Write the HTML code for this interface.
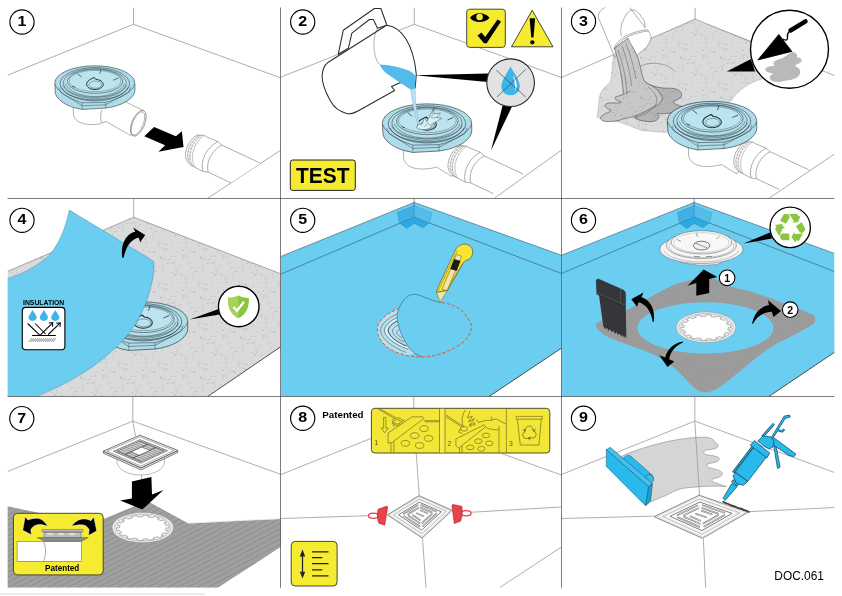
<!DOCTYPE html>
<html><head><meta charset="utf-8"><title>DOC.061</title>
<style>
html,body{margin:0;padding:0;background:#fff}
svg{display:block;will-change:transform}
text{font-family:"Liberation Sans",sans-serif}
.b{font-weight:bold}
.rl{stroke:#4a4a4a;stroke-width:.45;fill:none}
.tl{stroke:#9a9a9a;stroke-width:.8;fill:none}
.gl{stroke:#2a2a2a;stroke-width:.62;fill:none}
.nc{fill:#fff;stroke:#000;stroke-width:1.15}
.nt{font-weight:bold;font-size:14.6px;text-anchor:middle;fill:#000}
</style></head><body>
<svg width="842" height="596" viewBox="0 0 842 596">
<defs>
<pattern id="spk" width="40" height="40" patternUnits="userSpaceOnUse"><rect width="40" height="40" fill="#d9dadb"/><g fill="#858585"><circle cx="13.0" cy="6.0" r=".42"/><circle cx="26.0" cy="2.9" r=".42"/><circle cx="21.4" cy="14.6" r=".42"/><circle cx="2.3" cy="20.3" r=".42"/><circle cx="1.5" cy="17.3" r=".42"/><circle cx="2.8" cy="3.6" r=".42"/><circle cx="17.0" cy="33.1" r=".42"/><circle cx="5.0" cy="8.9" r=".42"/><circle cx="25.1" cy="37.9" r=".42"/><circle cx="23.1" cy="15.9" r=".42"/><circle cx="39.1" cy="1.9" r=".42"/><circle cx="34.3" cy="11.6" r=".42"/><circle cx="5.8" cy="4.7" r=".42"/><circle cx="12.3" cy="32.6" r=".42"/><circle cx="7.2" cy="23.3" r=".42"/><circle cx="25.6" cy="14.9" r=".42"/><circle cx="21.9" cy="2.5" r=".42"/><circle cx="2.4" cy="8.2" r=".42"/><circle cx="27.2" cy="17.1" r=".42"/><circle cx="12.6" cy="23.4" r=".42"/><circle cx="18.1" cy="12.0" r=".42"/><circle cx="31.8" cy="28.0" r=".42"/><circle cx="9.8" cy="23.0" r=".42"/><circle cx="21.0" cy="35.0" r=".42"/><circle cx="29.2" cy="11.5" r=".42"/><circle cx="39.2" cy="4.7" r=".42"/><circle cx="16.7" cy="30.3" r=".42"/><circle cx="6.1" cy="19.6" r=".42"/><circle cx="1.6" cy="26.7" r=".42"/><circle cx="30.6" cy="22.9" r=".42"/><circle cx="35.0" cy="12.5" r=".42"/><circle cx="27.8" cy="23.8" r=".42"/><circle cx="23.2" cy="18.2" r=".42"/><circle cx="33.6" cy="37.8" r=".42"/><circle cx="19.0" cy="26.6" r=".42"/><circle cx="2.4" cy="28.1" r=".42"/><circle cx="25.9" cy="39.7" r=".42"/><circle cx="32.9" cy="11.4" r=".42"/><circle cx="15.4" cy="26.7" r=".42"/><circle cx="0.9" cy="18.5" r=".42"/><circle cx="6.7" cy="4.7" r=".42"/><circle cx="2.4" cy="30.7" r=".42"/><circle cx="5.2" cy="9.9" r=".42"/><circle cx="15.6" cy="34.9" r=".42"/><circle cx="3.2" cy="18.0" r=".42"/><circle cx="22.0" cy="35.3" r=".42"/><circle cx="32.8" cy="34.6" r=".42"/><circle cx="11.1" cy="16.6" r=".42"/><circle cx="14.4" cy="35.4" r=".42"/><circle cx="38.3" cy="6.0" r=".42"/><circle cx="7.0" cy="9.3" r=".42"/><circle cx="9.3" cy="19.4" r=".42"/><circle cx="23.6" cy="10.5" r=".42"/><circle cx="0.2" cy="16.8" r=".42"/><circle cx="14.8" cy="22.7" r=".42"/><circle cx="38.1" cy="27.6" r=".42"/><circle cx="20.6" cy="24.7" r=".42"/><circle cx="27.0" cy="2.2" r=".42"/><circle cx="36.0" cy="31.2" r=".42"/><circle cx="35.0" cy="31.9" r=".42"/><circle cx="15.7" cy="16.0" r=".42"/><circle cx="4.1" cy="25.4" r=".42"/></g></pattern>
<pattern id="spk2" width="40" height="40" patternUnits="userSpaceOnUse"><rect width="40" height="40" fill="#b4b4b4"/><g fill="#777"><circle cx="13.0" cy="6.0" r=".42"/><circle cx="26.0" cy="2.9" r=".42"/><circle cx="21.4" cy="14.6" r=".42"/><circle cx="2.3" cy="20.3" r=".42"/><circle cx="1.5" cy="17.3" r=".42"/><circle cx="2.8" cy="3.6" r=".42"/><circle cx="17.0" cy="33.1" r=".42"/><circle cx="5.0" cy="8.9" r=".42"/><circle cx="25.1" cy="37.9" r=".42"/><circle cx="23.1" cy="15.9" r=".42"/><circle cx="39.1" cy="1.9" r=".42"/><circle cx="34.3" cy="11.6" r=".42"/><circle cx="5.8" cy="4.7" r=".42"/><circle cx="12.3" cy="32.6" r=".42"/><circle cx="7.2" cy="23.3" r=".42"/><circle cx="25.6" cy="14.9" r=".42"/><circle cx="21.9" cy="2.5" r=".42"/><circle cx="2.4" cy="8.2" r=".42"/><circle cx="27.2" cy="17.1" r=".42"/><circle cx="12.6" cy="23.4" r=".42"/><circle cx="18.1" cy="12.0" r=".42"/><circle cx="31.8" cy="28.0" r=".42"/><circle cx="9.8" cy="23.0" r=".42"/><circle cx="21.0" cy="35.0" r=".42"/><circle cx="29.2" cy="11.5" r=".42"/><circle cx="39.2" cy="4.7" r=".42"/><circle cx="16.7" cy="30.3" r=".42"/><circle cx="6.1" cy="19.6" r=".42"/><circle cx="1.6" cy="26.7" r=".42"/><circle cx="30.6" cy="22.9" r=".42"/><circle cx="35.0" cy="12.5" r=".42"/><circle cx="27.8" cy="23.8" r=".42"/><circle cx="23.2" cy="18.2" r=".42"/><circle cx="33.6" cy="37.8" r=".42"/><circle cx="19.0" cy="26.6" r=".42"/><circle cx="2.4" cy="28.1" r=".42"/><circle cx="25.9" cy="39.7" r=".42"/><circle cx="32.9" cy="11.4" r=".42"/><circle cx="15.4" cy="26.7" r=".42"/><circle cx="0.9" cy="18.5" r=".42"/><circle cx="6.7" cy="4.7" r=".42"/><circle cx="2.4" cy="30.7" r=".42"/><circle cx="5.2" cy="9.9" r=".42"/><circle cx="15.6" cy="34.9" r=".42"/><circle cx="3.2" cy="18.0" r=".42"/><circle cx="22.0" cy="35.3" r=".42"/><circle cx="32.8" cy="34.6" r=".42"/><circle cx="11.1" cy="16.6" r=".42"/><circle cx="14.4" cy="35.4" r=".42"/><circle cx="38.3" cy="6.0" r=".42"/><circle cx="7.0" cy="9.3" r=".42"/><circle cx="9.3" cy="19.4" r=".42"/><circle cx="23.6" cy="10.5" r=".42"/><circle cx="0.2" cy="16.8" r=".42"/><circle cx="14.8" cy="22.7" r=".42"/><circle cx="38.1" cy="27.6" r=".42"/><circle cx="20.6" cy="24.7" r=".42"/><circle cx="27.0" cy="2.2" r=".42"/><circle cx="36.0" cy="31.2" r=".42"/><circle cx="35.0" cy="31.9" r=".42"/><circle cx="15.7" cy="16.0" r=".42"/><circle cx="4.1" cy="25.4" r=".42"/></g></pattern>
<pattern id="spk3" width="40" height="40" patternUnits="userSpaceOnUse"><rect width="40" height="40" fill="#c7c7c7"/><g fill="#7d7d7d"><circle cx="13.0" cy="6.0" r=".42"/><circle cx="26.0" cy="2.9" r=".42"/><circle cx="21.4" cy="14.6" r=".42"/><circle cx="2.3" cy="20.3" r=".42"/><circle cx="1.5" cy="17.3" r=".42"/><circle cx="2.8" cy="3.6" r=".42"/><circle cx="17.0" cy="33.1" r=".42"/><circle cx="5.0" cy="8.9" r=".42"/><circle cx="25.1" cy="37.9" r=".42"/><circle cx="23.1" cy="15.9" r=".42"/><circle cx="39.1" cy="1.9" r=".42"/><circle cx="34.3" cy="11.6" r=".42"/><circle cx="5.8" cy="4.7" r=".42"/><circle cx="12.3" cy="32.6" r=".42"/><circle cx="7.2" cy="23.3" r=".42"/><circle cx="25.6" cy="14.9" r=".42"/><circle cx="21.9" cy="2.5" r=".42"/><circle cx="2.4" cy="8.2" r=".42"/><circle cx="27.2" cy="17.1" r=".42"/><circle cx="12.6" cy="23.4" r=".42"/><circle cx="18.1" cy="12.0" r=".42"/><circle cx="31.8" cy="28.0" r=".42"/><circle cx="9.8" cy="23.0" r=".42"/><circle cx="21.0" cy="35.0" r=".42"/><circle cx="29.2" cy="11.5" r=".42"/><circle cx="39.2" cy="4.7" r=".42"/><circle cx="16.7" cy="30.3" r=".42"/><circle cx="6.1" cy="19.6" r=".42"/><circle cx="1.6" cy="26.7" r=".42"/><circle cx="30.6" cy="22.9" r=".42"/><circle cx="35.0" cy="12.5" r=".42"/><circle cx="27.8" cy="23.8" r=".42"/><circle cx="23.2" cy="18.2" r=".42"/><circle cx="33.6" cy="37.8" r=".42"/><circle cx="19.0" cy="26.6" r=".42"/><circle cx="2.4" cy="28.1" r=".42"/><circle cx="25.9" cy="39.7" r=".42"/><circle cx="32.9" cy="11.4" r=".42"/><circle cx="15.4" cy="26.7" r=".42"/><circle cx="0.9" cy="18.5" r=".42"/><circle cx="6.7" cy="4.7" r=".42"/><circle cx="2.4" cy="30.7" r=".42"/><circle cx="5.2" cy="9.9" r=".42"/><circle cx="15.6" cy="34.9" r=".42"/><circle cx="3.2" cy="18.0" r=".42"/><circle cx="22.0" cy="35.3" r=".42"/><circle cx="32.8" cy="34.6" r=".42"/><circle cx="11.1" cy="16.6" r=".42"/><circle cx="14.4" cy="35.4" r=".42"/><circle cx="38.3" cy="6.0" r=".42"/><circle cx="7.0" cy="9.3" r=".42"/><circle cx="9.3" cy="19.4" r=".42"/><circle cx="23.6" cy="10.5" r=".42"/><circle cx="0.2" cy="16.8" r=".42"/><circle cx="14.8" cy="22.7" r=".42"/><circle cx="38.1" cy="27.6" r=".42"/><circle cx="20.6" cy="24.7" r=".42"/><circle cx="27.0" cy="2.2" r=".42"/><circle cx="36.0" cy="31.2" r=".42"/><circle cx="35.0" cy="31.9" r=".42"/><circle cx="15.7" cy="16.0" r=".42"/><circle cx="4.1" cy="25.4" r=".42"/></g></pattern>
<pattern id="str6" width="2" height="10" patternUnits="userSpaceOnUse" patternTransform="rotate(62.5)"><rect width="2" height="10" fill="#a3a3a3"/><rect width=".65" height="10" fill="#8a8a8a"/></pattern>
<pattern id="str7" width="4.6" height="10" patternUnits="userSpaceOnUse" patternTransform="rotate(62.5)"><rect width="4.6" height="10" fill="#9fa0a0"/><rect width=".6" height="10" fill="#848484"/></pattern>
<clipPath id="c1"><rect x="7.5" y="7.5" width="273.0" height="191.0"/></clipPath>
<clipPath id="c2"><rect x="280.5" y="7.5" width="281.0" height="191.0"/></clipPath>
<clipPath id="c3"><rect x="561.5" y="7.5" width="273.0" height="191.0"/></clipPath>
<clipPath id="c4"><rect x="7.5" y="198.5" width="273.0" height="198.0"/></clipPath>
<clipPath id="c5"><rect x="280.5" y="198.5" width="281.0" height="198.0"/></clipPath>
<clipPath id="c6"><rect x="561.5" y="198.5" width="273.0" height="198.0"/></clipPath>
<clipPath id="c7"><rect x="7.5" y="396.5" width="273.0" height="191.3"/></clipPath>
<clipPath id="c8"><rect x="280.5" y="396.5" width="281.0" height="191.3"/></clipPath>
<clipPath id="c9"><rect x="561.5" y="396.5" width="273.0" height="191.3"/></clipPath>
<g id="drain">
<path d="M-40,-3.2 A40,17.2 0 0 1 40,-3.2 L40.2,3.2 A40.2,19.3 0 0 1 10.8,21.9 L-12.7,23.2 A40.2,19.6 0 0 1 -39.7,3.7 Z" fill="#aedce8" stroke="#1f2c33" stroke-width=".55" stroke-linejoin="round"/>
<path d="M-39.8,-2 C-37,6 -26,12.5 -12.7,16.6 L10.8,16.2 C25,12.5 37,6 40,-2" fill="none" stroke="#1f2c33" stroke-width=".45"/>
<path d="M-36,1.5 L-34,6 L-12.7,19.6 L10.8,18.6 L34,6 L36,1" fill="none" stroke="#1f2c33" stroke-width=".4"/>
<path d="M-12.7,16.6 L-12.7,23.2 M10.8,16.2 L10.8,21.9" fill="none" stroke="#1f2c33" stroke-width=".35"/>
<ellipse cx="0" cy="-2.5" rx="34.7" ry="16.2" fill="#b5e0eb" stroke="#1f2c33" stroke-width=".5"/>
<path d="M-33.5,1 C-29,9.5 -15,14.6 0,14.6 C15,14.6 29,9.5 33.5,1" fill="none" stroke="#1f2c33" stroke-width=".5"/>
<path d="M-32,-1 C-28,7.5 -14,12.4 0,12.4 C14,12.4 28,7.5 32,-1" fill="none" stroke="#1f2c33" stroke-width=".4"/>
<ellipse cx="0" cy="-3.2" rx="31.5" ry="14.3" fill="none" stroke="#1f2c33" stroke-width=".45"/>
<path d="M-29.5,-2.5 C-26,5.5 -13,10.4 0.3,10.4 C13.5,10.4 26.5,5.5 29.8,-2.5" fill="none" stroke="#1f2c33" stroke-width=".4"/>
<ellipse cx="0.3" cy="-4.9" rx="27.6" ry="12" fill="#bbe4ee" stroke="#1f2c33" stroke-width=".5"/>
<ellipse cx="0.3" cy="-5.2" rx="25.9" ry="10.6" fill="none" stroke="#1f2c33" stroke-width=".3"/>
<path d="M-2.6,-7.8 C-6,-6.5 -8.2,-4.2 -8.2,-1.8 C-8.2,1 -4.5,3.3 0.1,3.3 C4.7,3.3 8.4,1 8.4,-1.8 C8.4,-4.4 5.2,-6.5 1.2,-6.8 L-0.8,-8.6 Z" fill="#bbe4ee" stroke="#1d2a30" stroke-width=".95" stroke-linejoin="round"/>
<ellipse cx="0.5" cy="-1.5" rx="6.4" ry="3.6" fill="none" stroke="#1d2a30" stroke-width=".35"/>
<g stroke="#1d2a30" stroke-width=".65" fill="none"><path d="M-17.2,-12.5 L-13.3,-9.3"/><path d="M6.3,-16.8 L4.9,-12.5"/><path d="M23.6,-8.2 L18.3,-5.9"/><path d="M-22.9,0 L-19.7,1.1"/></g>
</g>
</defs>
<g clip-path="url(#c1)">
<path class="rl" d="M133.5,7.5 V24.3 M7.5,75.2 L133.5,24.3 L281,78 M281,150 L207,198.7"/>
<!-- bowl and pipe -->
<path d="M73.2,104 L73.4,114 C74,121 82,124.6 91,124.6 C97,124.6 100.5,124.2 101.5,123 L106.1,121.5 L130.9,135.6 L143.7,110.8 L125.5,101.8 Z" fill="#fff" stroke="#555" stroke-width=".45"/>
<path class="rl" d="M101.5,123 C100.2,119 100.5,113 102,110"/>
<ellipse cx="138.3" cy="123.3" rx="6.3" ry="13.7" transform="rotate(23 138.3 123.3)" fill="#fff" stroke="#444" stroke-width=".5"/>
<ellipse cx="137.9" cy="123.5" rx="5.2" ry="12.5" transform="rotate(23 137.9 123.5)" fill="none" stroke="#555" stroke-width=".4"/>
<use href="#drain" x="94.8" y="86.2"/>
<!-- arrow -->
<path d="M154.1,126.9 L175.9,136.3 L181.9,131.3 L183.5,147 L158.4,151.7 L165.1,145.3 L144.3,136.3Z" fill="#000"/>
<!-- receiving pipe -->
<g id="rpipe">
<path d="M197.1,135.1 L204.2,135.4 L207.2,137.1 L217.8,141.6 L221.8,145.1 L260.5,163.2 L230.7,182.8 L208.2,172.1 L202.7,171.3 L191.1,165.3 C187,162 185,158 185.5,154.2 C186,147 190,139 197.1,135.1Z" fill="#fff"/>
<path class="rl" d="M197.1,135.1 L204.2,135.4 L207.2,137.1 L217.8,141.6 L221.8,145.1 L260.5,163.2 M191.1,165.3 L202.7,171.3 L208.2,172.1 L230.7,182.8 M197.1,135.1 C190,139 186,147 185.5,154.2 C185,158 187,162 191.1,165.3 M217.8,141.6 C207,147 200,160 202.7,171.3 M221.8,145.1 C212,150 205.5,162 208.2,172.1"/>
<path d="M199.3,135.2 C192.3,139.5 188.1,147.5 187.6,154.5 C187.2,158.5 188.8,162.5 192.1,165.9 M201.6,135.3 C194.8,139.8 190.3,148 189.8,155 C189.4,159 190.8,163 193.4,166.5 M204.2,135.4 C197.3,140 193,148.5 192.4,155.5 C192,159.5 193,163.5 195,167.2" fill="none" stroke="#666" stroke-width=".4"/>
<path d="M196,136.5 L199.5,138 M193.5,138.8 L197,140.4 M191.5,141.5 L195,143.2 M189.8,144.5 L193.4,146.2 M188.5,147.8 L192.2,149.4 M187.5,151.2 L191.3,152.6 M187,154.8 L190.8,156 M187.2,158.2 L190.8,159.2" stroke="#777" stroke-width=".35" fill="none"/>
</g>
</g>

<g clip-path="url(#c2)">
<path class="rl" d="M414.3,7.5 V24.3 M281,77 L414.3,24.3 L561.5,77.5 M561.5,150 L494.3,198.3"/>
<!-- callout pointers -->
<path d="M414.5,75.2 L488,73.6 L488,82 Z" fill="#000"/>
<path d="M491,150.5 L503,104 L512,106.5 Z" fill="#000"/>
<!-- jug -->
<path d="M338.2,54.3 L343.3,30.2 L374.4,8.5 L380.9,8.5 L386.9,25.2 L377.5,28.2 L373.4,19.5 L369.4,19.5 L351.9,33.2 L348.3,48.3 Z" fill="#fff" stroke="#2b2b2b" stroke-width="1.05" stroke-linejoin="round"/>
<path d="M386.5,25.2 C394,26 401,31 406,39 C411,47 415,60 416.3,74.4 L415.2,88 L400.6,82.5 L391.5,86.5 L394.6,90.5 L358.4,110.7 C353,113.6 350,114.2 347.3,113.7 C338,111.5 333,106 330.2,100.6 C325,91 322,84 322.1,76.5 C322.3,70 324,65.5 327.5,62.8 Z" fill="#fff" stroke="#2b2b2b" stroke-width="1.05" stroke-linejoin="round"/>
<path d="M377.5,28.2 C373.5,36 373,47 375,55 C376.5,60.5 378,63 379.5,64.4" fill="none" stroke="#555" stroke-width=".45"/>
<path d="M379.5,64.4 C388,64.8 399,66.5 408.7,70.4 C412,72 414,73.8 415.3,75.5 L415.2,88.5 L410.5,89.5 C404,85 393,78 386.5,73.4 C383,70.5 380.8,67 379.5,64.4Z" fill="#52bbea"/>
<!-- bowl + pipe -->
<path d="M403.3,148 L403.6,158 C404.5,165 412,169 421.3,169 C428,169 433,168.2 436.5,167 L452,176.5 L466,147.5 L452,141 Z" fill="#fff" stroke="#555" stroke-width=".45"/>
<use href="#rpipe" transform="translate(262.5,10.8)"/>
<use href="#drain" transform="translate(427,126.6) scale(1.115)"/>
<!-- stream into drain & splash -->
<path d="M410.6,89.4 L415.3,88.3 C415,100 416.5,112 419.6,125.5 L417.9,125.8 C414.5,113 412,101 410.6,89.4Z" fill="#b9def1" stroke="#6fa9c6" stroke-width=".35"/>
<path d="M416.5,127.5 C417.5,124.5 420,123.5 422,124.5 L424.5,117.5 L426.8,121.5 L433.5,108.5 L434.2,114 L440.5,113 L436.5,117.5 L441.8,118.2 L434,123 L430.5,127.8 C427,130.3 420,130.5 416.5,127.5Z" fill="#d9eef6" stroke="#3a5560" stroke-width=".5" stroke-linejoin="round"/>
<path d="M426.8,121.5 L429.5,125.5 L434,123 M433.5,108.5 L431.5,118 L436.5,117.5 M424,127 L427.5,124" fill="none" stroke="#3a5560" stroke-width=".4"/>
<!-- eye/check box -->
<rect x="466.7" y="9.2" width="38.6" height="38.2" rx="3" fill="#f5ec32" stroke="#333" stroke-width=".9"/>
<path d="M470,17.8 C474,11.8 485,11.5 489.5,17.8 C485,23.5 474,23.6 470,17.8Z" fill="#000"/>
<circle cx="479.6" cy="17" r="3.3" fill="#f5ec32"/>
<path d="M477.5,35.5 L481.5,32.5 L485.2,37 L497.5,19.5 L501,21.5 L486.5,43.5 L483.8,43 Z" fill="#000"/>
<!-- warning triangle -->
<path d="M532.2,10.3 L553,46.8 L511.5,46.8 Z" fill="#f5ec32" stroke="#333" stroke-width=".9" stroke-linejoin="round"/>
<path d="M529.6,18.3 L535.1,18.3 L533.5,37.5 L531.3,37.5Z" fill="#000"/><circle cx="532.4" cy="42.3" r="2.1" fill="#000"/>
<!-- no-water circle -->
<circle cx="510.6" cy="82.7" r="23.8" fill="#e2e2e2" stroke="#2a2a2a" stroke-width="1.1"/>
<path d="M510.6,66.5 C514,73 519.8,80.5 519.8,86.5 C519.8,91.5 515.8,95.3 510.6,95.3 C505.4,95.3 501.4,91.5 501.4,86.5 C501.4,80.5 507.2,73 510.6,66.5Z" fill="#3fb4e8"/>
<path d="M513,75 C516.5,80 518,86 515.5,91 C515,86 514.5,80 513,75Z" fill="#fff"/>
<path d="M496.2,70.2 L525.7,97 M525.7,69.3 L497,97" stroke="#333" stroke-width=".6"/>
<!-- TEST -->
<rect x="290.3" y="160" width="65" height="30.4" rx="2.5" fill="#f5ec32" stroke="#222" stroke-width="1"/>
<text x="322.8" y="183" class="b" font-size="22.8" text-anchor="middle" fill="#000" textLength="53.4" lengthAdjust="spacingAndGlyphs">TEST</text>
</g>

<g clip-path="url(#c3)">
<!-- speckled floor -->
<path d="M694.5,19.2 L775,50 L762,79 C750,82 738,90 731,101 L700,130 L665.5,132.6 L641.4,130.4 L621.2,122.6 L597.1,117.5 L598.6,106.3 C599,98 600,91 604.5,87.5 C609,84 610.5,82 611.2,78 L613.5,55 Z" fill="url(#spk)"/>
<path d="M613.5,55 L611.2,78 C610.5,82 609,84 604.5,87.5 C600,91 599,98 598.6,106.3 L597.1,117.5 L621.2,122.6 L641.4,130.4 L665.5,132.6 M731,101 C738,90 750,82 762,79" fill="none" stroke="#8a8a8a" stroke-width=".35"/>
<path class="rl" d="M695.1,7.5 V19.1 M561.5,77.5 L695.1,19.1 L834.5,75.6 M834.5,154 L768.9,198.3"/>
<!-- darker puddle -->
<path d="M645.4,82.1 C650,86 660,88.5 669.5,88.2 C676,88 681,90.5 681.6,94.2 C682,98 677,100 673.6,101.2 C672,103.5 680,105.5 683.6,107.3 C685,110 676,112.5 669.5,113.3 C664,114 656,113 657.5,114.3 C661,116.5 658,120.5 653.4,121.4 C648,122.2 640,121 635.3,118.4 Z" fill="url(#spk2)" stroke="#333" stroke-width=".5"/>
<path d="M640,66 C652,61 668,63 674,71" fill="none" stroke="#555" stroke-width=".4"/>
<!-- flow -->
<path d="M614.3,48.3 C619,62 622.5,78 623.3,94.2 C621,96 616,96 615.2,97.5 C614,100 619,100.5 621.2,102.3 C618,104 609,102 607.2,103.6 C603,105.5 605,108 611.2,110.3 C609,113 603.5,113.5 603.1,115.3 C599,116.8 600,120.5 605.1,121.4 C610,122 615,121 619.2,120.4 L624.3,118.4 C630,118 640,114.5 647.4,110.3 C654,106.5 659,104.5 659.5,103.3 C662.5,100 663,98 661.5,96.2 C660,92.5 658,90.5 655.4,88.2 C652,85.5 648,84 645.4,82.1 C643,79 642.5,76 641.4,72.1 C640,65 638.5,59.5 636.5,54.3 L628,38 Z" fill="url(#spk3)" stroke="#333" stroke-width=".5" stroke-linejoin="round"/>
<path d="M618,50 C623,64 626.5,80 627,95 M622,46 C627,60 630.5,74 631.5,86 M626,44 C631,56 634,68 636,79 M623.3,94.2 L631,91 M633,118 C642,116 653,111 656.5,103 C658,98 655,92 648,87" fill="none" stroke="#444" stroke-width=".4"/>
<!-- bucket -->
<path d="M598.2,17.1 C598.5,12 602,8.5 606.3,7 L629.4,7 L645.5,28.2 L647.5,29.8 C650,33 651.5,36 651,38.2 C650,42 648,45.5 645.5,48.3 L637.5,54.7 C635,50 630,42 627.4,35.2 C622,37.5 616.5,42.5 613.7,48.3 L615.3,58.4 Z" fill="#fff" stroke="none"/>
<path class="rl" d="M598.2,17.1 L615.3,58.4 M598.2,17.1 C598.5,12 602,8.5 606.3,7 M629.4,7 L645.5,28.2 M621.4,36.2 C620,30 621,24 623.4,20.1 C626,14 629,10.5 631.4,10.1 C635,9.5 637.5,11.5 639.5,14.1 C642,17.5 644,20 644.5,22.1 L645.2,27.5 M613.7,48.3 C616.5,42.5 622,37.5 627.4,35.2 C634,32 642,30 647.5,29.8 M614.6,49.4 C617.5,43.8 623,38.8 628.2,36.5 C635,33.4 642.5,31.4 648.3,31.1 M647.5,29.8 C650,33 651.5,36 651,38.2 C650,42 648,45.5 645.5,48.3 L637.5,54.7"/>
<!-- bowl + pipe -->
<path d="M688.3,145.5 L688.6,155.5 C689.5,162.5 697,166.5 706.3,166.5 C713,166.5 718,165.7 721.5,164.5 L737,174 L751,145 L737,138.5 Z" fill="#fff" stroke="#555" stroke-width=".45"/>
<use href="#rpipe" transform="translate(548.3,6.6)"/>
<use href="#drain" transform="translate(712,124.1) scale(1.115)"/>
<!-- callout -->
<path d="M726.7,71.4 L751,59 L755,71.6 Z" fill="#000"/>
<circle cx="789.5" cy="49.3" r="39" fill="#fff" stroke="#000" stroke-width="1.4"/>
<path d="M765.5,68.5 C768,66.5 772,65.5 775,66 C771,62.5 775,60 782,58.5 L792,52 C796,52 798,55 797,57.5 C801,57 803,60 800.5,62.5 C797,64.5 794,65 796,66.5 C800,68 801.5,72 799,75.5 C796,79.5 789,80 784,81 C779,82.5 773,82.5 770.5,79.5 C768.5,77 771,74.5 773.5,73.5 C768,73 764,71 765.5,68.5Z" fill="#b9b9ba"/>
<path d="M757.8,60 L778.8,34.4 L791.9,51.4 Z" fill="#000" stroke="#000" stroke-width=".8" stroke-linejoin="round"/>
<path d="M783,39 C786,41 788,40 787.5,37 C787,34.5 787.5,33 789.5,31.5" fill="none" stroke="#000" stroke-width="1.3"/>
<path d="M790.5,30.5 L805.5,21.3" stroke="#000" stroke-width="4.4" stroke-linecap="round"/>
</g>

<g clip-path="url(#c4)">
<path d="M133.7,217.2 L281,273.9 L281,346.5 L207.6,396.6 L7.5,396.6 L7.5,271.4 Z" fill="url(#spk)"/>
<path class="rl" d="M133.7,198.3 V217.2 M7.5,271.4 L133.7,217.2 L281,273.9"/><path d="M281,346.5 L207.6,396.6" stroke="#2a2a2a" stroke-width=".8" fill="none"/>
<use href="#drain" transform="translate(143,324.6) scale(1.115)"/>
<!-- membrane -->
<path d="M69.4,210.1 L153.9,261.4 C154.5,268 153.5,275 151.9,282.5 C149.5,294 146,304 140.8,314.2 C133,329 124,340 112.7,350.4 C103,359.5 92,367.5 80.5,374.6 C67,383 52,390 36.2,396.6 L7.4,396.6 L7.4,278.5 C22,274.5 36,266.5 48.3,256.4 C58,246 65,230 69.4,210.1Z" fill="#6bcdef"/>
<path d="M69.4,210.1 L153.9,261.4 C154.5,268 153.5,275 151.9,282.5 C149.5,294 146,304 140.8,314.2 C133,329 124,340 112.7,350.4 C103,359.5 92,367.5 80.5,374.6 C67,383 52,390 36.2,396.6 M7.4,278.5 C22,274.5 36,266.5 48.3,256.4 C58,246 65,230 69.4,210.1" fill="none" stroke="#3a7f9c" stroke-width=".4"/>
<!-- arrow -->
<path d="M122.3,257.8 C120.3,246 125,234.3 135.3,231.6 L133,227.5 L145.2,235 L140.2,242.2 L138.6,237.4 C130.3,239.6 125.6,247.5 123.7,257.8 Z" fill="#000"/>
<!-- insulation -->
<text x="23" y="304.8" class="b" font-size="6.6" fill="#000" textLength="41.3" lengthAdjust="spacingAndGlyphs">INSULATION</text>
<rect x="22.3" y="307.4" width="42.6" height="42.4" rx="3.5" fill="#fff" stroke="#000" stroke-width="1.1"/>
<g fill="#3fb4e8"><path id="dr4" d="M32.6,310 C34,312.8 36.7,315.3 36.7,317.6 C36.7,319.6 34.9,320.9 32.6,320.9 C30.3,320.9 28.5,319.6 28.5,317.6 C28.5,315.3 31.2,312.8 32.6,310Z"/><use href="#dr4" x="11.3"/><use href="#dr4" x="22.7"/></g>
<g stroke="#000" stroke-width="1.05" fill="none"><path d="M27.6,323.5 L39.7,335.1 M35.1,323.5 L45.6,334 M40.2,335.1 L52.3,323.2 M48.2,334.5 L59.8,323.4 M32.1,335.4 H55.8"/><path d="M48.8,323 L52.8,322.6 L52.5,326.6 M56.3,323.3 L60.3,322.9 L60,326.9"/></g>
<path d="M29.1,341.8 L31.6,338.3 M31.1,341.8 L33.6,338.3 M33.1,341.8 L35.6,338.3 M35.1,341.8 L37.6,338.3 M37.1,341.8 L39.6,338.3 M39.1,341.8 L41.6,338.3 M41.1,341.8 L43.6,338.3 M43.1,341.8 L45.6,338.3 M45.1,341.8 L47.6,338.3 M47.1,341.8 L49.6,338.3 M49.1,341.8 L51.6,338.3 M51.1,341.8 L53.6,338.3 M53.1,341.8 L55.6,338.3" stroke="#000" stroke-width=".5"/>
<!-- shield -->
<path d="M189.7,319.4 L218,309.2 L219.3,314.6 Z" fill="#000"/>
<circle cx="238.7" cy="306.5" r="20.3" fill="#fff" stroke="#000" stroke-width="1.4"/>
<path d="M238.5,295.5 C235,297.5 231.5,298 228.2,297.8 C227.5,306 230,314 238.5,318.3 C247,314 249.5,306 248.8,297.8 C245.5,298 242,297.5 238.5,295.5Z" fill="#8bc53f"/>
<path d="M238.5,295.5 C235,297.5 231.5,298 228.2,297.8 C227.5,306 230,314 238.5,318.3Z" fill="#a6d15a"/>
<path d="M233.5,307 L237,310.8 L244,301.8" fill="none" stroke="#fff" stroke-width="2.2"/>
</g>
<g clip-path="url(#c5)">
<path d="M414.2,202.4 L561.5,255.3 L561.5,348.1 L489,396.6 L281,396.6 L281,256.4 Z" fill="#6bcdef"/>
<path d="M414.2,198.3 V217.1 M281,256.4 L414.2,202.4 L561.5,255.3 M281,274.1 L414.2,217.1 L561.5,273.5" fill="none" stroke="#2a4a5c" stroke-width=".55"/><path d="M561.5,348.1 L489,396.5" stroke="#2a2a2a" stroke-width=".8" fill="none"/>
<!-- corner piece -->
<g id="corner5" stroke="#2f7fa6" stroke-width=".35" stroke-linejoin="round">
<path d="M397.3,212.5 L414.2,205.6 L414.2,217.1 L399.7,223.2 Z" fill="#3fb1e6"/>
<path d="M414.2,205.6 L431.9,213.1 L428.9,223.2 L414.2,217.1 Z" fill="#56bdea"/>
<path d="M399.7,223.2 L414.2,217.1 L428.9,223.2 L422.9,227.8 L414.2,223.4 L406.8,228.6 Z" fill="#2aa9e2"/>
</g>
<!-- exposed drain -->
<path d="M398.6,308.7 C391,311.5 384,316 381,320.4 C378,324 377,327 377.4,328.7 C377,333 378.5,337 381,340.4 C383.5,344 387,347.5 391.5,349.8 C397,352.5 402,354.5 408,355.7 L415,353.3 C407,346 400.5,334 398.1,324 C397,319 397,315 397.4,313.4 Z" fill="#b8e0ec"/>
<g fill="none" stroke="#33454d" stroke-width=".5">
<path d="M397,314 C388,318 381,324 380.5,330 C381,338 390,346 406,352.5"/>
<path d="M397.2,317.5 C390.5,320.5 384.5,325.5 384.2,330 C384.8,337 393,344 408.5,349.5"/>
<path d="M397.5,321 C392.5,323.5 388.2,327 388.2,330.5 C389,336 396,342 406.5,346" stroke-width=".9"/>
<path d="M398.3,325 C395,326.5 392.3,328.8 392.5,331 C393,335 398,339.5 404.3,342"/>
<path d="M399.5,329.5 C397.5,330.3 396.3,331.5 396.5,332.5 C397,334.5 399.5,336.6 402.3,337.8"/>
</g>
<path d="M397.3,319 C391,322 386.3,326.5 386.2,330.3 C387,336.5 394.5,343 407.5,347.8" fill="none" stroke="#fff" stroke-width=".9"/>
<!-- flap -->
<path d="M440.9,302.4 C437,301.8 434,301 431.5,300 C427,298.2 424,296.8 420.9,295.8 C417,294.4 414,294 411.5,294.6 C408.5,295.5 406.5,297 404.5,299.3 C402.5,301.5 401,303.8 399.8,306.3 C398.6,308.8 397.8,311 397.4,313.4 C396.8,317 397.2,320.5 398.1,324 C399,328 400.5,332 402.1,335.7 C403.8,339.5 405.8,343 408,346.3 C410,349 412.3,351.5 415,353.3 C417.5,355 420.3,356.3 423.3,356.9 L450,340 Z" fill="#6bcdef"/>
<path d="M440.9,302.4 C437,301.8 434,301 431.5,300 C427,298.2 424,296.8 420.9,295.8 C417,294.4 414,294 411.5,294.6 C408.5,295.5 406.5,297 404.5,299.3 C402.5,301.5 401,303.8 399.8,306.3 C398.6,308.8 397.8,311 397.4,313.4 C396.8,317 397.2,320.5 398.1,324 C399,328 400.5,332 402.1,335.7 C403.8,339.5 405.8,343 408,346.3 C410,349 412.3,351.5 415,353.3 C417.5,355 420.3,356.3 423.3,356.9" fill="none" stroke="#33454d" stroke-width=".5"/>
<!-- dashed -->
<path d="M441.5,302.6 C447,303.3 451,304.5 455,306.3 C460,308.5 464.5,312.5 466.7,316.9 C469.5,320 471.4,323 471.4,326.3 C471.5,330 470.3,333.5 467.9,336.9 C465,341 460.5,344.5 455,347.5 C450,350.5 444.5,352.8 438.5,354.5 C433.5,356 428.5,356.7 423.3,356.9 C418,357.1 413,356.7 408,355.7 C402,354.5 396.5,352.5 391.5,349.8 C387,347.5 383.5,344 381,340.4 C378.5,337 377,333 377.4,328.7 C377,327 378,324 381,320.4 C384,316 391,311.5 398.6,308.7" fill="none" stroke="#e9512d" stroke-width="1" stroke-dasharray="3.2 2.1"/>
<!-- knife -->
<path d="M455.8,249.2 C457,247.2 458.5,246 460.2,245.3 C461.5,244.5 463,244.1 464.3,244.1 C466,244.1 467.3,244.4 468.4,245 C471,246.3 472.4,248.5 472.6,250.9 C472.8,252.5 472.6,254.2 472,255.6 C471.2,257.3 469.8,258.8 467.9,259.7 C466.2,260.4 464.6,261 463.7,262.1 L447.6,290.4 L436.7,292.2 L436.7,290.2 Z" fill="#f7e436" stroke="#4f4a1a" stroke-width=".6" stroke-linejoin="round"/>
<path d="M457.3,250.5 L438.3,290.6 M462.6,263.3 L446.6,289.5" stroke="#4f4a1a" stroke-width=".4" fill="none"/>
<path d="M456.7,254.4 L461.6,256.2 L447.1,290.6 L442.1,289.2 Z" fill="#efe7a8" stroke="#4f4a1a" stroke-width=".45" stroke-linejoin="round"/>
<path d="M436.7,292.4 L447.3,290.7 L440,302.3 Z" fill="#efe7a8" stroke="#4f4a1a" stroke-width=".45" stroke-linejoin="round"/>
<path d="M454.1,259.1 L460.5,261 L456.7,270.9 L450.2,269.1 Z" fill="#1c1c1c"/>
</g>

<g clip-path="url(#c6)">
<path d="M694.2,202.4 L834.5,253.4 L834.8,352.1 L768.8,396.6 L561.5,396.6 L561.5,255.3 Z" fill="#6bcdef"/>
<path d="M694.2,198.3 V217.1 M561.5,255.3 L694.2,202.4 L834.5,253.4 M561.5,273.5 L694.2,217.1 L834.5,271.5" fill="none" stroke="#2a4a5c" stroke-width=".55"/><path d="M834.8,352.1 L768.8,396.5" stroke="#2a2a2a" stroke-width=".8" fill="none"/>
<use href="#corner5" x="280"/>
<!-- adhesive ring -->
<path fill-rule="evenodd" d="M596,323.5 C606,318 620,313 631,308 C645,301 658,292 671,286.3 C677,283.5 683,282 690,280.3 C697,278.7 703,278 707.7,278 C713,278 717,279.3 722,282.5 C727,285.5 735,288.3 744,289.8 C752,291.5 757,293.8 761,295 C770,298 780,302 787.7,304.7 C796,307.8 806,311.5 812.7,314.7 C815.5,316.5 816,320.5 814.3,323 C809,327.5 800,331.5 794.3,334.7 C788,338.5 780,341.5 774.3,344.7 C765,351 756,358 747.7,364.7 C741,370.5 734,376 727.7,381.3 C722,386 716,390.5 707.7,392.3 C701,393 695.5,390 691,384.7 C685,379 680,373 674.3,368 C668,362.5 661,358 654.3,354.7 C646,351 636,347.5 627.7,344.7 C619,341.5 610,338.5 604.3,334.7 C598,331 594.5,326.5 596,323.5Z M637.5,328 C637.5,342 668,353.5 705.5,353.5 C743,353.5 773.5,342 773.5,328 C773.5,314 743,302.3 705.5,302.3 C668,302.3 637.5,314 637.5,328Z" fill="url(#str6)"/>
<!-- collar ring -->
<ellipse cx="706" cy="327.3" rx="29.6" ry="15.3" fill="#fafafa" stroke="#8c8c8c" stroke-width=".5"/><ellipse cx="706" cy="327.3" rx="27.4" ry="13.8" fill="#ededed" stroke="#8a8a8a" stroke-width=".45"/><path d="M728.4,327.6 L727.8,330.1 L730.7,330.5 L728.8,333.2 L726.2,332.5 L723.5,334.7 L725.8,335.6 L721.8,337.7 L720.0,336.5 L715.7,337.9 L717.0,339.2 L711.6,340.2 L711.0,338.7 L706.0,339.0 L706.0,340.5 L700.4,340.2 L701.0,338.7 L696.3,337.9 L695.0,339.2 L690.2,337.7 L692.0,336.5 L688.5,334.7 L686.2,335.6 L683.2,333.2 L685.8,332.5 L684.2,330.1 L681.3,330.5 L680.7,327.6 L683.6,327.6 L684.2,325.1 L681.3,324.7 L683.2,322.0 L685.8,322.7 L688.5,320.5 L686.2,319.6 L690.2,317.5 L692.0,318.7 L696.3,317.3 L695.0,316.0 L700.4,315.0 L701.0,316.5 L706.0,316.2 L706.0,314.7 L711.6,315.0 L711.0,316.5 L715.7,317.3 L717.0,316.0 L721.8,317.5 L720.0,318.7 L723.5,320.5 L725.8,319.6 L728.8,322.0 L726.2,322.7 L727.8,325.1 L730.7,324.7 L731.3,327.6Z" fill="#fff" stroke="#6e6e6e" stroke-width=".5" stroke-linejoin="round"/><path d="M733.0,328.8 L731.6,329.1 M729.0,334.6 L727.8,334.6 M720.5,338.9 L719.7,338.7 M709.0,340.9 L708.9,340.6 M697.0,340.2 L697.5,340.0 M686.8,337.0 L687.8,336.9 M680.3,331.8 L681.7,331.9 M679.0,325.8 L680.4,326.1 M683.0,320.0 L684.2,320.6 M691.5,315.7 L692.3,316.5 M703.0,313.7 L703.1,314.6 M715.0,314.4 L714.5,315.2 M725.2,317.6 L724.2,318.3 M731.7,322.8 L730.3,323.3" stroke="#9a9a9a" stroke-width=".4" fill="none"/>
<!-- cover disc -->
<path d="M660.5,251.5 L683,263 L700,265.4 L717,264.6 L742,252.5 Z" fill="#eeeeee" stroke="#555" stroke-width=".4"/>
<ellipse cx="701.4" cy="249.3" rx="41.6" ry="14.3" fill="#f3f3f3" stroke="#555" stroke-width=".45"/>
<path d="M664,251 C668,258 685,262 701,262 C718,262 734,258 739,251" fill="none" stroke="#777" stroke-width=".4"/>
<ellipse cx="701.4" cy="245.2" rx="35" ry="13.3" fill="#f6f6f6" stroke="#444" stroke-width=".45"/>
<ellipse cx="701.4" cy="246" rx="32.5" ry="11.6" fill="none" stroke="#777" stroke-width=".35"/>
<ellipse cx="701.4" cy="242.3" rx="30.2" ry="11.6" fill="#f8f8f8" stroke="#444" stroke-width=".45"/>
<ellipse cx="701.4" cy="242.6" rx="27.6" ry="10" fill="none" stroke="#888" stroke-width=".35"/>
<ellipse cx="701.6" cy="245.6" rx="8.2" ry="4.4" fill="#f0f0f0" stroke="#555" stroke-width=".8"/>
<path d="M695.5,243.3 L707.5,248 M677,239.5 L681,241.3 M696.5,233 L697.5,236.8 M719.5,236.3 L716.5,239 M694,256.5 H700 M706,256.5 H712" stroke="#444" stroke-width=".5" fill="none"/>
<!-- up arrow -->
<path d="M703.7,269.4 L717.3,277 L709.2,279 L709.2,293.1 L696.3,295.8 L696.3,283 L687.6,285.7 Z" fill="#000"/>
<!-- curved arrows -->
<path d="M653.8,321.7 C655.5,310 650.5,299.5 641.5,297.2 L643.5,292.5 L631.3,299.3 L637,306.7 L638.8,302.2 C646.5,304.5 651.5,312 652.6,321.7Z" fill="#000"/>
<path d="M682.8,341.6 C674,343 667.3,349 665.3,357.5 L659.3,355.3 L667.5,367 L674.2,361.5 L669.2,359.2 C670,352 675,346 682.8,342.4Z" fill="#000"/>
<path d="M752.1,323.7 C754,313 761,306.3 769,305.3 L768,300.3 L781,311 L773.5,317 L771.8,311.8 C763.5,312 756.5,316.5 753,323.7Z" fill="#000"/>
<!-- number circles -->
<circle cx="727.1" cy="277.8" r="7.8" fill="#fff" stroke="#000" stroke-width="1.1"/><text x="727.1" y="281.6" class="b" font-size="10.5" text-anchor="middle" fill="#000">1</text>
<circle cx="790.2" cy="309.7" r="7.8" fill="#fff" stroke="#000" stroke-width="1.1"/><text x="790.2" y="313.5" class="b" font-size="10.5" text-anchor="middle" fill="#000">2</text>
<!-- notched trowel -->
<path d="M598.8,294 L625.8,306 L626.4,338.4 L625.2,336 L624.2,338 L622.6,335 L621.3,336.8 L619.6,333.6 L618.2,335.3 L616.5,332.2 L615,333.8 L613.3,330.8 L611.8,332.3 L610,329.3 L608.6,330.8 L606.8,327.8 L605.4,329.2 L603.3,326.3 Z" fill="#343639"/>
<path d="M596.2,281.2 C596.2,279.5 597.5,278.6 599,279.3 L622.8,289.8 C624.5,290.6 625.6,292.2 625.6,294 L625.6,307 L596.8,294.3 Z" fill="#343639" stroke="#222" stroke-width=".4"/>
<path d="M597,293 L625.6,305.6 M620.5,289 L620.7,303.3" stroke="#777" stroke-width=".4" fill="none"/>
<!-- recycle callout -->
<path d="M743.6,243.4 L770,232.6 L772,238.6 Z" fill="#000"/>
<circle cx="790.2" cy="227.4" r="20.2" fill="#fff" stroke="#000" stroke-width="1.3"/>
<g fill="#8cc63f" transform="translate(790.4,227.75)">
<g id="rc1"><path d="M-1.5,-13.8 L6.9,-13.8 L8.1,-11.3 L10.2,-12.2 L7.7,-5.6 L1.3,-5.3 L3.5,-6.5 L0.6,-10.9 Z"/><path d="M-4.6,-13.8 L-1.9,-13.4 L-0.7,-10.5 L-4.4,-3.9 L-10.3,-7 L-7.2,-12.4 C-6.6,-13.4 -5.6,-13.9 -4.6,-13.8Z"/></g>
<use href="#rc1" transform="rotate(120)"/><use href="#rc1" transform="rotate(240)"/>
</g>
</g>

<g clip-path="url(#c7)">
<path class="tl" d="M132.8,396.6 V421.2 L135.5,436 M7.5,471.5 L132.8,421.2 L281,474.4"/>
<!-- striped floor -->
<path d="M7.3,506.3 L92,523.8 L147.2,501 L188.5,523.4 L281,518.9 L281,546.8 L217.7,587.8 L7.3,587.8 Z" fill="url(#str7)"/>
<path d="M188.5,523 L281,518.5" stroke="#e6e6e6" stroke-width=".7" fill="none"/>
<!-- collar -->
<ellipse cx="142.8" cy="527.6" rx="30.6" ry="15.1" fill="#fafafa" stroke="#8c8c8c" stroke-width=".5"/><ellipse cx="142.8" cy="527.6" rx="28.4" ry="13.6" fill="#ededed" stroke="#8a8a8a" stroke-width=".45"/><path d="M166.2,527.9 L165.6,530.4 L168.6,530.7 L166.6,533.4 L163.9,532.8 L161.1,534.9 L163.5,535.8 L159.3,537.8 L157.4,536.7 L153.0,538.0 L154.3,539.3 L148.7,540.2 L148.0,538.8 L142.8,539.1 L142.8,540.6 L136.9,540.2 L137.6,538.8 L132.6,538.0 L131.3,539.3 L126.3,537.8 L128.2,536.7 L124.5,534.9 L122.1,535.8 L119.0,533.4 L121.7,532.8 L120.0,530.4 L117.0,530.7 L116.4,527.9 L119.4,527.9 L120.0,525.4 L117.0,525.1 L119.0,522.4 L121.7,523.0 L124.5,520.9 L122.1,520.0 L126.3,518.0 L128.2,519.1 L132.6,517.8 L131.3,516.5 L136.9,515.6 L137.6,517.0 L142.8,516.7 L142.8,515.2 L148.7,515.6 L148.0,517.0 L153.0,517.8 L154.3,516.5 L159.3,518.0 L157.4,519.1 L161.1,520.9 L163.5,520.0 L166.6,522.4 L163.9,523.0 L165.6,525.4 L168.6,525.1 L169.2,527.9Z" fill="#fff" stroke="#6e6e6e" stroke-width=".5" stroke-linejoin="round"/><path d="M170.8,529.1 L169.5,529.3 M166.7,534.8 L165.6,534.8 M157.8,539.0 L157.1,538.8 M146.0,541.0 L145.8,540.7 M133.5,540.3 L133.9,540.1 M122.9,537.1 L123.8,537.0 M116.2,532.1 L117.4,532.2 M114.8,526.1 L116.1,526.5 M118.9,520.4 L120.0,521.0 M127.8,516.2 L128.5,517.0 M139.6,514.2 L139.8,515.1 M152.1,514.9 L151.7,515.7 M162.7,518.1 L161.8,518.8 M169.4,523.1 L168.2,523.6" stroke="#9a9a9a" stroke-width=".4" fill="none"/>
<!-- cylinder under grate -->
<path d="M116.9,455 L116.9,462 C117.5,469.5 128,475 140.7,475 C153.5,475 164,469.5 164.5,462 L164.5,455 Z" fill="#fff" stroke="#666" stroke-width=".45"/>
<path d="M141.3,475 L142,481" class="tl"/>
<polygon points="103.3,451.2 141.0,467.8 177.8,450.4 177.8,452.4 141.0,469.9 103.3,453.2" fill="#e8e8e8" stroke="#333" stroke-width=".6" stroke-linejoin="round"/><polygon points="139.9,435.2 177.8,450.4 141.0,467.8 103.3,451.2" fill="#fff" stroke="#333" stroke-width=".7" stroke-linejoin="round"/><polygon points="140.0,436.8 174.1,450.5 140.9,466.1 107.0,451.2" fill="none" stroke="#444" stroke-width=".45"/><polygon points="140.1,439.7 167.4,450.6 140.9,463.1 113.7,451.2" fill="#f0f0f0" stroke="#333" stroke-width=".6"/><polygon points="140.1,440.9 164.4,450.7 140.8,461.8 116.7,451.2" fill="#9a9a9a" stroke="#333" stroke-width=".5"/><path d="M137.5,442.1 L161.8,451.9 M134.9,443.2 L159.1,453.1 M132.3,444.4 L156.5,454.4 M129.7,445.5 L153.9,455.6 M127.1,446.6 L151.3,456.9 M124.5,447.8 L148.7,458.1 M121.9,448.9 L146.1,459.3 M119.3,450.0 L143.4,460.6" stroke="#f2f2f2" stroke-width=".75"/><path d="M148.1,444.2 L124.7,454.7 M156.1,447.4 L132.6,458.2" stroke="#444" stroke-width=".8"/><polygon points="141.8,447.1 149.8,450.4 139.2,455.3 131.2,451.8" fill="#fff" stroke="#333" stroke-width=".5"/>
<!-- arrow -->
<path d="M131.9,481.4 L151.4,476.9 L152,494.4 L163.5,490 L142.4,509.5 L120.2,500.5 L131.9,498.5 Z" fill="#000"/>
<!-- patented box -->
<rect x="13.4" y="513.3" width="89.8" height="61.6" rx="4" fill="#f5ec32" stroke="#333" stroke-width=".9"/>
<rect x="17.1" y="541.3" width="64.6" height="20" fill="#fff" stroke="#555" stroke-width=".5"/>
<path d="M43.5,541.5 C46.3,547 46.3,555.5 43.5,561.2" fill="none" stroke="#555" stroke-width=".5"/>
<path d="M37,537.5 L88.3,537.5 L81.7,541.3 L44.7,541.3 Z" fill="#8c8c8c" stroke="#444" stroke-width=".4"/>
<path d="M42,529.5 H83 V532 H42Z M44,532 H81 V537.5 H44Z" fill="#bdbdbd" stroke="#444" stroke-width=".4"/>
<path d="M47,534 H53 M58,534 H64 M69,534 H75" stroke="#fff" stroke-width="1.2"/>
<path d="M47.7,526.4 C45,521.5 41,518.5 37.8,518.3 C34,518 31,518.8 28.1,520.1 L25.1,516.7 L22.7,530.3 L31.5,534.8 L30.8,529.7 C32.5,526.5 35,524.9 37.8,524.7 C41,524.4 44.5,525 47.7,526.4Z" fill="#000" stroke="#fff" stroke-width=".5"/>
<path d="M71.6,526.4 C74.5,521.5 79,518.9 83.7,518.9 C86.5,518.9 88.8,519.5 90.9,520.7 L93.9,517.1 L96.7,530.9 L88.5,535.5 L89.1,529.7 C87.5,526.5 85.3,525 82.5,524.9 C79,524.7 75,525.2 71.6,526.4Z" fill="#000" stroke="#fff" stroke-width=".5"/>
<text x="45" y="570.8" class="b" font-size="8.15" fill="#000">Patented</text>
</g>
<g clip-path="url(#c8)">
<path class="tl" d="M413.8,396.6 V410 M416.2,453 L419.3,495.5 M281,474.5 L413.8,421.2 M502,453.7 L561.5,475 M281,518.5 L368.4,515.7 M470.5,512.3 L561.5,507 M422.5,538.5 L426,587.8 M561.5,547 L499.3,587.8"/>
<polygon points="418.9,495.7 452.2,510.3 422.2,538.0 387.4,514.9" fill="#fff" stroke="#6a6a6a" stroke-width=".8" stroke-linejoin="round"/><polygon points="419.0,496.8 450.3,510.6 422.1,536.6 389.4,514.9" fill="none" stroke="#9a9a9a" stroke-width=".4"/><polygon points="419.1,498.9 446.8,511.1 421.9,534.0 393.0,514.9" fill="none" stroke="#808080" stroke-width=".5"/><polygon points="419.2,499.9 445.2,511.3 421.8,532.9 394.6,514.9" fill="none" stroke="#aaa" stroke-width=".35"/><polygon points="419.3,502.2 441.3,511.8 421.5,530.1 398.5,514.8" fill="none" stroke="#5a5a5a" stroke-width=".8"/><path d="M421.3,505.1 L436.0,511.5 M436.1,513.8 L422.9,526.0 M419.4,526.3 L404.1,516.1 M403.9,513.8 L417.7,505.3 M421.0,507.7 L431.7,512.4 M431.8,514.1 L422.2,522.9 M419.6,523.1 L408.5,515.7 M408.3,514.0 L418.4,507.9 M420.7,510.3 L427.3,513.3 M419.8,520.0 L412.9,515.3 M416.8,513.3 L423.5,516.2" stroke="#7d7d7d" stroke-width="1.7" stroke-linecap="round" fill="none"/><path d="M421.3,505.1 L436.0,511.5 M436.1,513.8 L422.9,526.0 M419.4,526.3 L404.1,516.1 M403.9,513.8 L417.7,505.3 M421.0,507.7 L431.7,512.4 M431.8,514.1 L422.2,522.9 M419.6,523.1 L408.5,515.7 M408.3,514.0 L418.4,507.9 M420.7,510.3 L427.3,513.3 M419.8,520.0 L412.9,515.3 M416.8,513.3 L423.5,516.2" stroke="#f4f4f4" stroke-width=".6" stroke-linecap="round" fill="none"/>
<!-- red clips -->
<g fill="#e8434a" stroke="#8a2025" stroke-width=".5" stroke-linejoin="round">
<ellipse cx="373.4" cy="515.8" rx="4.9" ry="2.6" fill="#fff" stroke="#e8434a" stroke-width="1.3"/>
<path d="M378,509.3 L386.3,506.2 C387.3,506 387.8,506.8 387.6,508 L384.8,525.2 L379,523.4 C377.2,519 377,514 378,509.3Z"/>
<ellipse cx="466.2" cy="513.3" rx="4.9" ry="2.6" fill="#fff" stroke="#e8434a" stroke-width="1.3"/>
<path d="M461.8,506.3 L453.3,504.5 C452.3,504.4 451.8,505.2 452,506.4 L454.2,523.6 L460.6,521.2 C462.4,516.5 462.7,511.5 461.8,506.3Z"/>
</g>
<text x="322.2" y="417.7" class="b" font-size="9.8" fill="#000">Patented</text>
<!-- yellow strip -->
<rect x="371.4" y="408.3" width="178.4" height="44.7" rx="3.5" fill="#f2e736" stroke="#3a3a2a" stroke-width=".9"/>
<rect x="439.6" y="408.8" width="5.3" height="43.7" fill="#f5ec4c"/>
<g fill="none" stroke="#5f5b1e" stroke-width=".6" stroke-linejoin="round">
<path d="M439.5,408.5 V452.8 M445,408.5 V452.8 M506.4,408.5 V452.8"/>
<path d="M383.6,417.4 H385.9 V428 H388.3 L384.7,432.8 L381.2,428 H383.6Z"/>
<path d="M378,409 L394.2,418.5 M380,409 L395.5,417.6"/>
<ellipse cx="397.3" cy="421.6" rx="5" ry="3.8"/><ellipse cx="397.3" cy="421.8" rx="3.2" ry="2.3"/>
<path d="M392.5,422 L394,427 M402,420.5 L405,420"/>
<path d="M388.1,433 L412.1,416.8 L422.7,416.8 L423.8,418.5 L392,442.5 L388.1,443.1 Z" fill="#f2e736"/>
<path d="M390.9,443 V452.8 M393.9,441.5 V452.8 M423.8,420.7 H439.5 M425,421.8 H439.5"/>
<ellipse cx="424" cy="428.6" rx="4.2" ry="2.9"/><ellipse cx="414.7" cy="435.6" rx="4.2" ry="2.9"/><ellipse cx="428.6" cy="438.4" rx="4.2" ry="2.9"/><ellipse cx="405.4" cy="443.3" rx="4.2" ry="2.9"/><ellipse cx="419.6" cy="445.5" rx="4.2" ry="2.9"/>
<!-- panel 2 -->
<path d="M445.5,416.5 L462,427 M446,415 L463,426"/>
<path d="M455.8,439.1 L484.1,424.7 L485.5,426.8 L458.6,448.1 L456,445.5 Z" fill="#f2e736"/>
<path d="M459.5,448 V452.8 M462,446 V452.8 M486,427.5 C490,429.5 495,430 499,429.8 M499,426 V452.8"/>
<ellipse cx="464" cy="428.8" rx="3.5" ry="2.3"/><circle cx="470.6" cy="425.3" r="1.2"/><circle cx="474" cy="424" r="1.2"/>
<path d="M461,428 L458.5,432 L462.5,433.5 M465,410 C462,416 461,422 463.5,427 M470,411 L467.5,418 L472.5,416 L468.5,422 L474.5,418.5 L469.5,425.5 M476.5,419.5 L478.5,422.5 L484.5,420.7 L492,420.2 L496,418.8 L506,424 M491.2,416.5 L492,420"/>
<ellipse cx="486.1" cy="435.4" rx="3.7" ry="2.4"/><ellipse cx="478.3" cy="441.2" rx="3.7" ry="2.4"/><ellipse cx="489.2" cy="443.3" rx="3.7" ry="2.4"/><ellipse cx="470.3" cy="447.4" rx="3.7" ry="2.4"/><ellipse cx="481.3" cy="448.8" rx="3.7" ry="2.4"/>
<!-- bin -->
<path d="M516.2,416.4 H542.2 V419.2 H516.2Z M517.4,419.4 L520.3,445 H538.9 L541.3,419.4"/>
<g transform="translate(529.3,433)"><g id="rc8"><path d="M-2.2,-6.8 L1.8,-6.8 L5,-1.5 M-2.2,-6.8 L-5,-2.2 M2.6,-3.6 L5,-1.5 L6,-4.6"/></g><use href="#rc8" transform="rotate(120)"/><use href="#rc8" transform="rotate(240)"/></g>
</g>
<g fill="#5f5b1e" font-size="6.8"><text x="374.6" y="445.2">1</text><text x="447.6" y="446">2</text><text x="509" y="445.5">3</text></g>
<!-- icon bottom-left -->
<rect x="291.2" y="541.4" width="45.9" height="44.6" rx="4" fill="#f5ec32" stroke="#333" stroke-width=".9"/>
<path d="M312,551.8 H328.5 M312,557.6 H322.4 M312,563.7 H328.5 M312,569.8 H322.4 M312,575.9 H328.5 M302.5,553 V575" stroke="#222" stroke-width="1.25" fill="none"/>
<path d="M302.5,549.6 L305.2,556.5 H299.8Z M302.5,578.6 L305.2,571.7 H299.8Z" fill="#222"/>
</g>
<g clip-path="url(#c9)">
<path class="tl" d="M694.8,396.6 V421.1 M561.5,474.5 L694.8,421.1 L834.5,472.5 M653.9,516.1 L561.5,518.5 M748.4,511.7 L834.5,507.5 M703.3,538.7 L705.7,587.8"/>
<!-- swoosh -->
<path d="M621.4,456.4 C634,450.5 654,444 673.7,440.3 C686,438 697,437 706.1,437.2 C711,437.5 714,440 715.2,442.3 C717,444 719,445 718.2,446.3 C717.5,448 714.5,448.8 712.2,449.3 C708,450 704.5,450 704.1,451.3 C703.5,452.8 704,453.8 705.1,454.3 C709,455.5 713,455.5 716.2,456.4 C718.5,457 719.6,458 719.2,459.4 C718.8,461 716.5,462 714.2,462.4 C711,463.2 708,463.5 707.2,464.4 C706.5,465.5 707,466.8 708.2,467.4 C712,468.8 716,469 719.2,470.4 C721.5,471.5 722.6,473 722.2,474.5 C721.8,476 720,477 718.2,477.5 C715.5,478.2 713,478.5 712.2,479.5 C711.5,480.5 712.5,481.8 714.2,482.5 C718,484 722,485.2 726.3,486.5 C718,486 710,486 702.1,486.5 C695,487 688,487.7 681.7,488.5 C675.5,490.5 670,493 665.6,495.6 C660,498 655,500 651.5,501.6 Z" fill="#d4d6d5" stroke="#6a6a6a" stroke-width=".45" stroke-linejoin="round"/>
<path class="tl" d="M694.8,421.1 L699.5,495.3" stroke="#aaa"/>
<!-- float -->
<g stroke="#14506e" stroke-width=".5" stroke-linejoin="round">
<path d="M623.5,458.5 C624.5,455.5 628.5,454.5 631,456.3 L651.5,474.5 C654,477 653.8,481 651,482.5 L647,484 Z" fill="#29baed"/>
<ellipse cx="649.7" cy="478.6" rx="3.6" ry="4.3" transform="rotate(-20 649.7 478.6)" fill="#3cbcec"/>
<path d="M606.3,449.7 L610.3,447.3 L652.5,483.5 L648.5,486.5 Z" fill="#45bfed"/>
<path d="M648.5,486.5 L652.5,483.5 L650.5,501.6 L645.5,505.7 Z" fill="#1f9fd2"/>
<path d="M606.3,449.7 L648.5,486.5 L645.5,505.7 L606.3,466.4 Z" fill="#29baed"/>
</g>
<polygon points="699.2,495.2 748.2,512.2 702.5,538.3 654.1,516.7" fill="#fff" stroke="#6a6a6a" stroke-width=".8" stroke-linejoin="round"/><polygon points="699.3,496.4 745.4,512.4 702.4,536.9 656.9,516.6" fill="none" stroke="#9a9a9a" stroke-width=".4"/><polygon points="699.5,498.7 740.2,512.8 702.2,534.4 662.1,516.5" fill="none" stroke="#808080" stroke-width=".5"/><polygon points="699.6,499.7 737.8,512.9 702.2,533.3 664.4,516.5" fill="none" stroke="#aaa" stroke-width=".35"/><polygon points="699.8,502.1 732.2,513.4 702.0,530.6 670.0,516.3" fill="none" stroke="#5a5a5a" stroke-width=".8"/><path d="M702.7,505.3 L724.3,512.8 M724.4,515.2 L704.3,526.6 M699.2,526.9 L677.9,517.4 M677.7,515.0 L697.5,505.6 M702.2,508.1 L717.9,513.6 M718.1,515.3 L703.4,523.6 M699.7,523.8 L684.2,516.9 M684.0,515.2 L698.5,508.3 M701.8,510.9 L711.6,514.3 M700.2,520.7 L690.5,516.4 M696.1,513.9 L705.9,517.3" stroke="#7d7d7d" stroke-width="1.7" stroke-linecap="round" fill="none"/><path d="M702.7,505.3 L724.3,512.8 M724.4,515.2 L704.3,526.6 M699.2,526.9 L677.9,517.4 M677.7,515.0 L697.5,505.6 M702.2,508.1 L717.9,513.6 M718.1,515.3 L703.4,523.6 M699.7,523.8 L684.2,516.9 M684.0,515.2 L698.5,508.3 M701.8,510.9 L711.6,514.3 M700.2,520.7 L690.5,516.4 M696.1,513.9 L705.9,517.3" stroke="#f4f4f4" stroke-width=".6" stroke-linecap="round" fill="none"/>
<!-- caulk bead -->
<path d="M723.2,501.6 C726,504 729,503.5 730.5,505 C733,506.5 735,505.8 737,507.5 C739.5,508.8 741.5,508 743.5,509.8 C745.5,510.8 747.5,510.5 749,512" fill="none" stroke="#3a3a3a" stroke-width="1.6" stroke-linecap="round"/>
<!-- gun -->
<g stroke="#123c55" stroke-width=".7" stroke-linejoin="round" fill="#29baed">
<path d="M762.3,436.9 L773.8,423.8" stroke="#123c55" stroke-width="2.6" fill="none"/>
<path d="M762.3,436.9 L773.8,423.8" stroke="#29baed" stroke-width="1.4" fill="none"/>
<path d="M772.1,436.1 L784.2,416.1 L789.7,415.1 L790.2,417.1 L785.2,418.4 L773.8,436.9 Z"/>
<path d="M778,430.2 L782.2,431.5 L784.2,429.3" fill="none" stroke="#123c55" stroke-width="2.2"/>
<path d="M778,430.2 L782.2,431.5 L784.2,429.3" fill="none" stroke="#29baed" stroke-width="1.1"/>
<path d="M773.8,446.1 L776.3,447 L780.1,467.1 L777.5,468.5 Z"/>
<path d="M771.2,436.9 L774.1,437.9 L795.9,454 L793.9,456.7 L788.9,455.4 L773.8,445.3 Z"/>
<path d="M757.8,441.1 L762.9,436.1 L771.2,436.9 L774.1,441.1 L772.9,447 L768.7,449 Z"/>
<path d="M733.1,472.5 L754,445" fill="none" stroke="#123c55" stroke-width="2.4"/>
<path d="M733.1,472.5 L754,445" fill="none" stroke="#29baed" stroke-width="1.1"/>
<path d="M723.1,498.2 L731.8,483.6 L737.2,486.4 L725.1,500.4 Z"/>
<path d="M731.5,481.9 L733.1,479.7 L738.8,483.6 L737.5,485.9 Z"/>
<path d="M735.1,472.2 L754.5,446.5 L767.3,456 L747.7,481.4 Z"/>
<path d="M733.1,476.4 L735.1,472.2 L747.7,481.4 L743.5,485.3 L736.5,483.6 Z"/>
<path d="M750.3,445.3 L754.5,440.6 L769.6,452.9 L767,457.9 Z"/>
</g>
</g>
<g>
<rect x="0" y="593.4" width="205" height="1.5" fill="#e4e4e4"/>
<path class="gl" d="M7.5,198.5 H834.5 M7.5,396.5 H834.5 M280.5,7.5 V587.8 M561.5,7.5 V587.8"/>
<g>
<circle class="nc" cx="22.0" cy="22.0" r="12.1"/><text class="nt" transform="translate(22.0,26.1) scale(1.1,1)">1</text>
<circle class="nc" cx="302.7" cy="22.0" r="12.1"/><text class="nt" transform="translate(302.7,26.1) scale(1.1,1)">2</text>
<circle class="nc" cx="583.5" cy="21.5" r="12.1"/><text class="nt" transform="translate(583.5,25.6) scale(1.1,1)">3</text>
<circle class="nc" cx="22.0" cy="220.3" r="12.1"/><text class="nt" transform="translate(22.0,224.4) scale(1.1,1)">4</text>
<circle class="nc" cx="302.7" cy="220.3" r="12.1"/><text class="nt" transform="translate(302.7,224.4) scale(1.1,1)">5</text>
<circle class="nc" cx="583.5" cy="220.3" r="12.1"/><text class="nt" transform="translate(583.5,224.4) scale(1.1,1)">6</text>
<circle class="nc" cx="21.8" cy="418.6" r="12.1"/><text class="nt" transform="translate(21.8,422.7) scale(1.1,1)">7</text>
<circle class="nc" cx="302.7" cy="418.3" r="12.1"/><text class="nt" transform="translate(302.7,422.4) scale(1.1,1)">8</text>
<circle class="nc" cx="583.5" cy="418.3" r="12.1"/><text class="nt" transform="translate(583.5,422.4) scale(1.1,1)">9</text>
</g>
<text x="774.3" y="579.9" font-size="11.9" fill="#000">DOC.061</text>
</g>

</svg>
</body></html>
